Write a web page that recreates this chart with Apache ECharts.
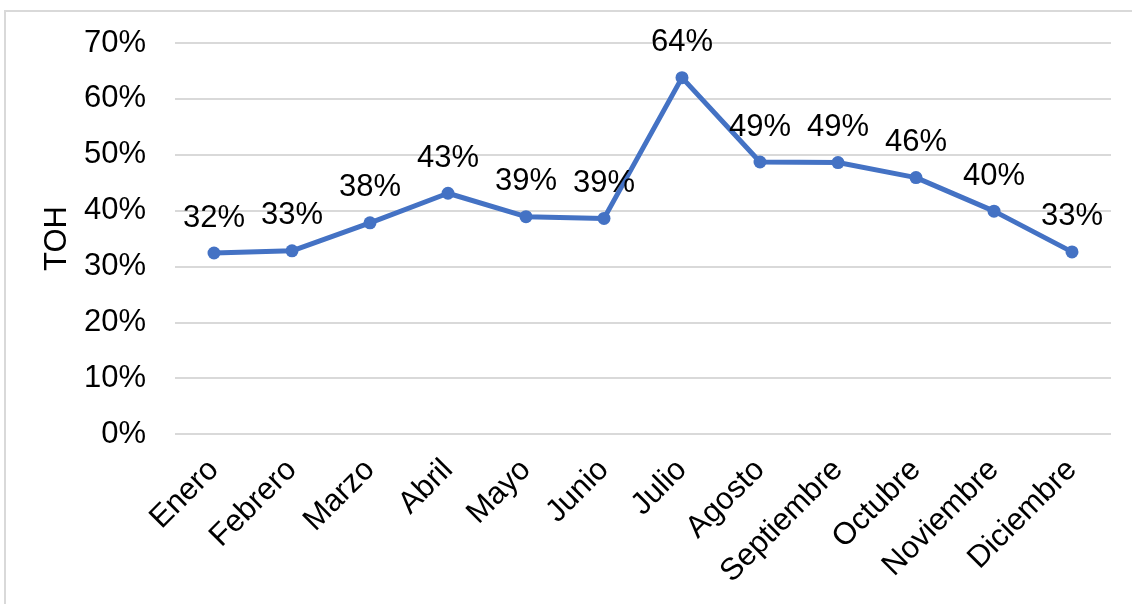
<!DOCTYPE html>
<html>
<head>
<meta charset="utf-8">
<script src="https://cdn.jsdelivr.net/npm/echarts@6/dist/echarts.min.js"></script>
<style>
html,body{margin:0;padding:0;background:#fff;}
#chart{width:1132px;height:604px;}
</style>
</head>
<body>
<div id="chart"></div>
<script>
var categories = ['Enero','Febrero','Marzo','Abril','Mayo','Junio','Julio','Agosto','Septiembre','Octubre','Noviembre','Diciembre'];
var tohValues = [32.4, 32.8, 37.8, 43.1, 38.9, 38.6, 63.8, 48.7, 48.6, 45.9, 39.9, 32.6];
var yAxisName = 'TOH';
var yMin = 0, yMax = 70, yInterval = 10;

var FONT = "'Liberation Sans', Arial, sans-serif";
var chart = echarts.init(document.getElementById('chart'), null, {renderer: 'canvas'});
chart.setOption({
  animation: false,
  backgroundColor: '#ffffff',
  graphic: [{
    type: 'rect',
    shape: {x: 5, y: 11, width: 1200, height: 700},
    style: {fill: 'none', stroke: '#d9d9d9', lineWidth: 2},
    silent: true
  }],
  grid: {left: 175, right: 21, top: 43, bottom: 170, containLabel: false},
  xAxis: {
    type: 'category',
    data: categories,
    boundaryGap: true,
    axisLine: {show: false},
    axisTick: {show: false},
    axisLabel: {
      rotate: 45,
      interval: 0,
      margin: 31,
      color: '#000',
      fontFamily: FONT,
      fontSize: 31
    }
  },
  yAxis: {
    type: 'value',
    min: yMin,
    max: yMax,
    interval: yInterval,
    name: yAxisName,
    nameLocation: 'middle',
    nameRotate: 90,
    nameGap: 101,
    nameTextStyle: {color: '#000', fontFamily: FONT, fontSize: 31},
    axisLine: {show: false},
    axisTick: {show: false},
    axisLabel: {
      margin: 29,
      color: '#000',
      fontFamily: FONT,
      fontSize: 31,
      formatter: function (v) { return v + '%'; }
    },
    splitLine: {lineStyle: {color: '#d9d9d9', width: 2}}
  },
  series: [{
    type: 'line',
    data: tohValues,
    symbol: 'circle',
    symbolSize: 13,
    itemStyle: {color: '#4472C4'},
    lineStyle: {color: '#4472C4', width: 5},
    label: {
      show: true,
      position: 'top',
      distance: 13,
      color: '#000',
      fontFamily: FONT,
      fontSize: 31,
      formatter: function (p) { return Math.round(p.value) + '%'; }
    }
  }]
});
</script>
</body>
</html>
